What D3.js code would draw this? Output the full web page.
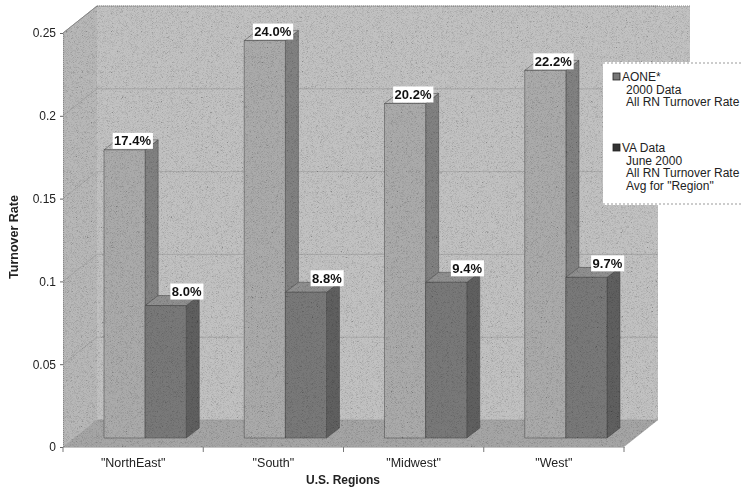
<!DOCTYPE html>
<html><head><meta charset="utf-8">
<script src="https://cdn.jsdelivr.net/npm/d3@7"></script>
<style>body{margin:0;background:#fff}svg{display:block}text{font-family:"Liberation Sans",Arial,sans-serif}</style>
</head><body><svg id="c" width="743" height="493"></svg>
<script>
const categories = ['"NorthEast"', '"South"', '"Midwest"', '"West"'];
const seriesNames = ["AONE", "VA"];
const aoneValues = [0.174, 0.240, 0.202, 0.222];
const vaValues = [0.080, 0.088, 0.094, 0.097];
const yTicks = [0, 0.05, 0.1, 0.15, 0.2, 0.25];
const legendLines = [
  ['AONE*', '2000 Data', 'All RN Turnover Rate'],
  ['VA Data', 'June 2000', 'All RN Turnover Rate', 'Avg for "Region"']
];

const svg = d3.select('#c');
const x0 = 63, x1 = 624;
const D = [34, -27];   // floor depth
const F = [12, -9];    // bar front offset
const B = [13, -10];   // bar depth
const y = d3.scaleLinear().domain([0, 0.25]).range([447, 33]);
const x = d3.scaleBand().domain(categories).range([x0, x1]);
const xs = d3.scaleBand().domain(seriesNames).range([0, x.bandwidth()]).paddingOuter(0.705);

const defs = svg.append('defs');
const f = defs.append('filter').attr('id', 'noise').attr('x', 0).attr('y', 0).attr('width', '100%').attr('height', '100%');
f.append('feTurbulence').attr('type', 'fractalNoise').attr('baseFrequency', 2.2).attr('numOctaves', 1).attr('seed', 5);
f.append('feColorMatrix').attr('type', 'saturate').attr('values', 0);
const ct = f.append('feComponentTransfer');
['feFuncR', 'feFuncG', 'feFuncB'].forEach(n => ct.append(n).attr('type', 'linear').attr('slope', 3.5).attr('intercept', -0.9));
ct.append('feFuncA').attr('type', 'linear').attr('slope', 0).attr('intercept', 1);

const pts = a => a.map(p => p.join(',')).join(' ');
const yTop = y(0.25), yBot = y(0);

// walls
const g = svg.append('g');
g.append('polygon').attr('points', pts([[x0 + D[0], yTop + D[1]], [690, yTop + D[1]], [690, 62], [x1 + D[0], 62], [x1 + D[0], yBot + D[1]], [x0 + D[0], yBot + D[1]]])).attr('fill', '#c2c2c2');
g.append('polygon').attr('points', pts([[x0, yTop], [x0 + D[0], yTop + D[1]], [x0 + D[0], yBot + D[1]], [x0, yBot]])).attr('fill', '#b8b8b8');
g.append('polygon').attr('points', pts([[x0, yBot], [x1, yBot], [x1 + D[0], yBot + D[1]], [x0 + D[0], yBot + D[1]]])).attr('fill', '#a6a6a6');
// gridlines
yTicks.forEach(t => {
  g.append('line').attr('x1', x0).attr('y1', y(t)).attr('x2', x0 + D[0]).attr('y2', y(t) + D[1]).attr('stroke', '#999').attr('stroke-width', 0.6);
  g.append('line').attr('x1', x0 + D[0]).attr('y1', y(t) + D[1]).attr('x2', x1 + D[0]).attr('y2', y(t) + D[1]).attr('stroke', '#999').attr('stroke-width', 0.6);
});
g.append('line').attr('x1', x0 + D[0]).attr('y1', yTop + D[1]).attr('x2', 690).attr('y2', yTop + D[1]).attr('stroke', '#888').attr('stroke-dasharray', '1,1');
g.append('polyline').attr('points', pts([[x0, yTop], [x0 + D[0], yTop + D[1]]])).attr('fill', 'none').attr('stroke', '#888');

// bars
const colors = {
  AONE: {front: '#ababab', side: '#828282', top: '#bebebe'},
  VA: {front: '#797979', side: '#606060', top: '#909090'}
};
const data = categories.map((c, i) => ({c, vals: [{s: 'AONE', v: aoneValues[i]}, {s: 'VA', v: vaValues[i]}]}));
const labels = [];
data.forEach(d => {
  d.vals.forEach(b => {
    const xl = x(d.c) + xs(b.s) + F[0], xr = xl + xs.bandwidth();
    const yb = y(0) + F[1], yt = y(b.v) + F[1];
    const c = colors[b.s];
    const bg = g.append('g').attr('stroke', '#444').attr('stroke-width', 0.5).attr('stroke-linejoin', 'round');
    bg.append('polygon').attr('points', pts([[xr, yt], [xr + B[0], yt + B[1]], [xr + B[0], yb + B[1]], [xr, yb]])).attr('fill', c.side);
    bg.append('polygon').attr('points', pts([[xl, yt], [xl + B[0], yt + B[1]], [xr + B[0], yt + B[1]], [xr, yt]])).attr('fill', c.top);
    bg.append('rect').attr('x', xl).attr('y', yt).attr('width', xr - xl).attr('height', yb - yt).attr('fill', c.front);
    const cx = (xl + xr) / 2;
    labels.push(b.s === 'AONE' ? {x: cx + 8, y: yt - 9, v: b.v} : {x: cx + 21, y: yt - 14, v: b.v});
  });
});

// noise overlay
const clip = defs.append('clipPath').attr('id', 'plotclip');
clip.append('polygon').attr('points', pts([[x0, yTop], [x0 + D[0], yTop + D[1]], [690, yTop + D[1]], [690, 62], [x1 + D[0], 62], [x1 + D[0], yBot + D[1]], [x1, yBot], [x0, yBot]]));
svg.append('rect').attr('x', 0).attr('y', 0).attr('width', 743).attr('height', 493)
  .attr('filter', 'url(#noise)').attr('clip-path', 'url(#plotclip)').attr('opacity', 0.3).style('mix-blend-mode', 'multiply');

// value labels
const lg = svg.append('g');
labels.forEach(l => {
  const t = lg.append('text').attr('x', l.x).attr('y', l.y).attr('text-anchor', 'middle').attr('dominant-baseline', 'central')
    .attr('font-size', 13).attr('font-weight', 'bold').attr('fill', '#111').text(d3.format('.1%')(l.v));
  const bb = t.node().getBBox();
  lg.insert('rect', () => t.node()).attr('x', bb.x - 1.5).attr('y', bb.y - 0.5).attr('width', bb.width + 3).attr('height', bb.height + 1).attr('fill', '#fff');
});

// axes
const ya = svg.append('g').attr('transform', `translate(${x0},0)`)
  .call(d3.axisLeft(y).tickValues(yTicks).tickSize(3).tickPadding(4).tickFormat(d => String(d)));
ya.select('.domain').attr('stroke', '#888').attr('stroke-dasharray', '1,1');
ya.selectAll('.tick line').attr('stroke', '#666');
ya.selectAll('text').attr('font-size', 12).attr('fill', '#222').style('font-family', '"Liberation Sans",Arial,sans-serif');

const xa = svg.append('g').attr('transform', `translate(0,${yBot})`)
  .call(d3.axisBottom(x).tickSize(0).tickPadding(11));
xa.select('.domain').attr('stroke', '#888').attr('stroke-dasharray', '1,1');
xa.selectAll('text').attr('font-size', 12.5).attr('fill', '#222').style('font-family', '"Liberation Sans",Arial,sans-serif');
const bounds = [x0].concat(categories.map(c => x(c) + x.bandwidth()));
svg.append('g').selectAll('line').data(bounds).join('line')
  .attr('x1', d => d).attr('x2', d => d).attr('y1', yBot).attr('y2', yBot + 5).attr('stroke', '#777');

svg.append('text').attr('x', 343).attr('y', 484).attr('text-anchor', 'middle')
  .attr('font-size', 12).attr('font-weight', 'bold').attr('fill', '#222').text('U.S. Regions');
svg.append('text').attr('transform', 'translate(18,237) rotate(-90)').attr('text-anchor', 'middle')
  .attr('font-size', 12.5).attr('font-weight', 'bold').attr('fill', '#222').text('Turnover Rate');

// legend
const leg = svg.append('g');
leg.append('rect').attr('x', 603).attr('y', 62).attr('width', 140).attr('height', 143).attr('fill', '#fff');
leg.append('line').attr('x1', 603).attr('x2', 743).attr('y1', 63).attr('y2', 63).attr('stroke', '#999').attr('stroke-dasharray', '2,2');
leg.append('line').attr('x1', 603).attr('x2', 743).attr('y1', 204).attr('y2', 204).attr('stroke', '#999').attr('stroke-dasharray', '2,2');
const legY = [77, 148];
const legFill = ['#777', '#333'];
legendLines.forEach((lines, i) => {
  leg.append('rect').attr('x', 613).attr('y', legY[i] - 4).attr('width', 7).attr('height', 7)
    .attr('fill', legFill[i]).attr('stroke', '#222').attr('stroke-width', 0.8);
  lines.forEach((ln, j) => {
    leg.append('text').attr('x', j === 0 ? 622 : 626).attr('y', legY[i] + j * 12.5).attr('dominant-baseline', 'central')
      .attr('font-size', 12).attr('fill', '#222').text(ln);
  });
});
</script></body></html>
